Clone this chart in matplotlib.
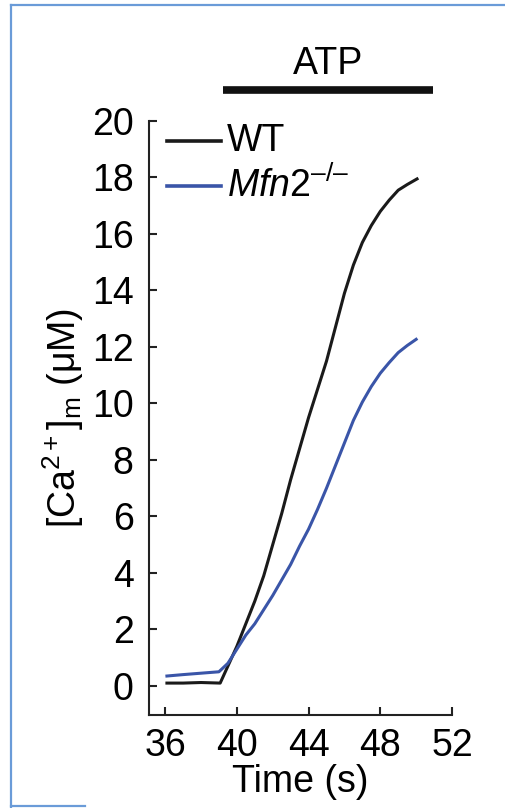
import matplotlib
matplotlib.use("Agg")
import matplotlib.pyplot as plt
from matplotlib.lines import Line2D

plt.rcParams['font.family'] = ['Liberation Sans', 'DejaVu Sans']
plt.rcParams['mathtext.fontset'] = 'custom'
plt.rcParams['mathtext.rm'] = 'Liberation Sans'
plt.rcParams['mathtext.it'] = 'Liberation Sans:italic'
plt.rcParams['mathtext.bf'] = 'Liberation Sans:bold'

# === data ===
wt_t = [36.1, 37.0, 38.0, 39.07, 39.5, 40.0, 40.5, 41.0, 41.5, 42.0, 42.5, 43.0,
        43.5, 44.0, 44.5, 45.0, 45.5, 46.0, 46.5, 47.0, 47.5, 48.0, 48.5, 49.0,
        49.5, 50.05]
wt_ca = [0.1, 0.1, 0.12, 0.1, 0.7, 1.4, 2.2, 3.0, 3.9, 5.0, 6.1, 7.3,
         8.4, 9.5, 10.5, 11.5, 12.7, 13.9, 14.9, 15.7, 16.3, 16.8, 17.2, 17.55,
         17.75, 17.95]

mfn2_t = [36.1, 37.0, 38.0, 39.0, 39.5, 40.0, 40.5, 41.0, 41.5, 42.0, 42.5, 43.0,
          43.5, 44.0, 44.5, 45.0, 45.5, 46.0, 46.5, 47.0, 47.5, 48.0, 48.5, 49.0,
          49.5, 50.0]
mfn2_ca = [0.35, 0.4, 0.45, 0.5, 0.8, 1.3, 1.8, 2.2, 2.7, 3.2, 3.75, 4.3,
           4.95, 5.55, 6.25, 7.0, 7.8, 8.6, 9.4, 10.05, 10.6, 11.07, 11.45, 11.8,
           12.05, 12.27]

atp_start, atp_end = 39.2, 50.95
x_ticks = [36, 40, 44, 48, 52]
y_ticks = [0, 2, 4, 6, 8, 10, 12, 14, 16, 18, 20]

blue = '#3a55a8'
fs = 27

W, H = 506, 808
fig = plt.figure(figsize=(W / 100, H / 100), dpi=100)
ax = fig.add_axes([149 / W, (H - 715) / H, (452 - 149) / W, (715 - 121) / H])

ax.plot(wt_t, wt_ca, color='#1a1a1a', lw=2.2)
ax.plot(mfn2_t, mfn2_ca, color=blue, lw=2.2)

# legend drawn by hand like in the figure
ax.plot([36.1, 39.1], [19.28, 19.28], color='#1a1a1a', lw=2.6, clip_on=False)
ax.plot([36.1, 39.1], [17.7, 17.7], color=blue, lw=2.6, clip_on=False)
ax.text(39.45, 19.28, 'WT', fontsize=fs, va='center', ha='left')
ax.text(39.45, 17.7, r'$\mathit{Mfn2}^{\mathrm{–/–}}$', fontsize=fs, va='center', ha='left')

# ATP bar
ax.plot([atp_start, atp_end], [21.1, 21.1], color='#111111', lw=5.5,
        solid_capstyle='butt', clip_on=False)
ax.text((atp_start + atp_end) / 2, 21.68, 'ATP', fontsize=fs, ha='center', va='baseline')

ax.set_xlim(35.1, 52)
ax.set_ylim(-1.03, 20)
ax.set_xticks(x_ticks)
ax.set_yticks(y_ticks)
ax.spines['top'].set_visible(False)
ax.spines['right'].set_visible(False)
for s in ['left', 'bottom']:
    ax.spines[s].set_linewidth(1.5)
    ax.spines[s].set_color('#222222')
ax.tick_params(direction='in', length=6, width=1.5, labelsize=fs, color='#222222')
ax.tick_params(axis='y', pad=11)
ax.tick_params(axis='x', pad=9)

ax.set_xlabel('Time (s)', fontsize=fs, labelpad=0)
ax.set_ylabel(r'[Ca$^{2+}$]$_{\mathrm{m}}$ (μM)', fontsize=fs, labelpad=4)

# blue frame around the panel
fc = '#6a9bd8'
fig.add_artist(Line2D([11 / W, 11 / W], [0, 1 - 5 / H], color=fc, lw=1.6, transform=fig.transFigure))
fig.add_artist(Line2D([11 / W, 1], [1 - 5 / H, 1 - 5 / H], color=fc, lw=1.6, transform=fig.transFigure))
fig.add_artist(Line2D([11 / W, 85 / W], [2 / H, 2 / H], color=fc, lw=1.6, transform=fig.transFigure))

fig.savefig('out.png', dpi=100)
